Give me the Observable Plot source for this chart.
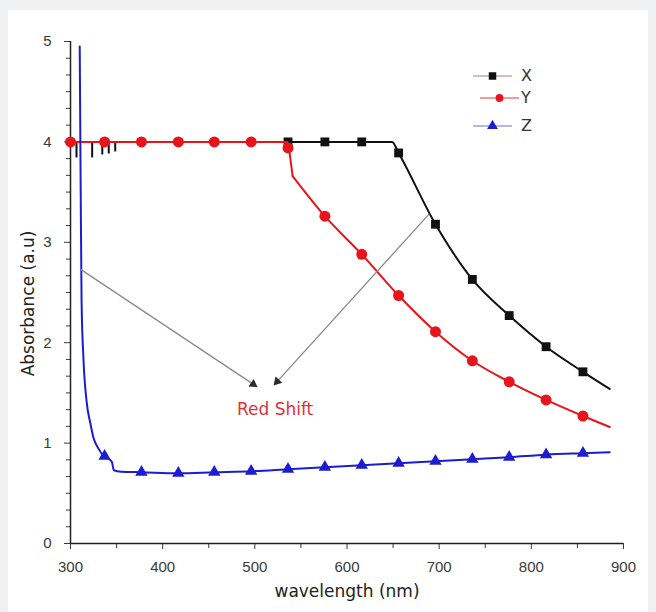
<!DOCTYPE html>
<html>
<head>
<meta charset="utf-8">
<script src="https://cdn.jsdelivr.net/npm/d3@7"></script>
<script src="https://cdn.jsdelivr.net/npm/@observablehq/plot@0.6"></script>
<style>
  body { margin: 0; background: #eef0f2; font-family: "Liberation Sans", Arial, sans-serif; }
  #wrap { position: relative; width: 656px; height: 612px; overflow: hidden; }
  #panel { position: absolute; left: 8px; top: 10px; width: 640px; height: 602px; background: #fff; }
  #chart { position: absolute; left: 0; top: 0; }
  #legend { position: absolute; left: 470px; top: 64px; }
  .lrow { position: absolute; left: 0; width: 80px; height: 20px; }
  .lrow span { position: absolute; left: 51px; top: 0px; font-size: 16px; color: #333; font-family: "DejaVu Sans", sans-serif; }
</style>
</head>
<body>
<div id="wrap">
  <div id="panel"></div>
  <div id="chart"></div>
  <div id="legend"></div>
</div>
<script>
// ---------- data ----------
const xTicks = [300, 400, 500, 600, 700, 800, 900];
const xMinorTicks = [350, 450, 550, 650, 750, 850];
const yTicks = [0, 1, 2, 3, 4, 5];

// Series X (black squares)
const xLineWl  = [300, 649, 656, 696, 736, 776, 816, 856, 885];
const xLineAbs = [4.0, 4.0, 3.89, 3.18, 2.63, 2.27, 1.96, 1.71, 1.54];
const xMarkWl  = [536, 576, 616, 656, 696, 736, 776, 816, 856];
const xMarkAbs = [4.0, 4.0, 4.0, 3.89, 3.18, 2.63, 2.27, 1.96, 1.71];
// small noise spikes of X near 300-350 nm
const xNoiseWl  = [306.5, 323.5, 334.5, 341.5, 348.5];
const xNoiseAbs = [3.84, 3.84, 3.87, 3.88, 3.90];

// Series Y (red circles)
const yLineWl  = [300, 535, 537, 541, 576, 616, 656, 696, 736, 776, 816, 856, 885];
const yLineAbs = [4.0, 4.0, 3.94, 3.66, 3.26, 2.88, 2.47, 2.11, 1.82, 1.61, 1.43, 1.27, 1.16];
const yMarkWl  = [300, 337, 377, 417, 456, 496, 536, 576, 616, 656, 696, 736, 776, 816, 856];
const yMarkAbs = [4.0, 4.0, 4.0, 4.0, 4.0, 4.0, 3.94, 3.26, 2.88, 2.47, 2.11, 1.82, 1.61, 1.43, 1.27];

// Series Z (blue triangles)
const zLineWl  = [310, 311, 312, 314, 317.4, 321.7, 325, 330.7, 336, 342, 345, 347, 355, 377, 417, 456, 496, 536, 576, 616, 656, 696, 736, 776, 816, 856, 885];
const zLineAbs = [4.95, 3.6, 2.42, 1.85, 1.42, 1.19, 1.05, 0.94, 0.87, 0.84, 0.81, 0.73, 0.715, 0.71, 0.70, 0.71, 0.72, 0.74, 0.76, 0.78, 0.80, 0.82, 0.84, 0.86, 0.885, 0.90, 0.91];
const zMarkWl  = [337, 377, 417, 456, 496, 536, 576, 616, 656, 696, 736, 776, 816, 856];
const zMarkAbs = [0.87, 0.71, 0.70, 0.71, 0.72, 0.74, 0.76, 0.78, 0.80, 0.82, 0.84, 0.86, 0.885, 0.90];

// annotation arrows and label
const arrowFromWl  = [311, 689];
const arrowFromAbs = [2.73, 3.28];
const arrowToWl    = [501, 522];
const arrowToAbs   = [1.57, 1.59];
const noteText = ["Red Shift"];
const noteWl = [522];
const noteAbs = [1.33];

const seriesNames = ["X", "Y", "Z"];
const seriesColors = ["#111111", "#e8141c", "#1c1cd0"];
const legendLine = ["#c8a8a8", "#f07a80", "#9aa0dc"];

// ---------- build tables ----------
const zip = (a, b) => a.map((v, i) => ({x: v, y: b[i]}));
const xLine = zip(xLineWl, xLineAbs), xMark = zip(xMarkWl, xMarkAbs);
const yLine = zip(yLineWl, yLineAbs), yMark = zip(yMarkWl, yMarkAbs);
const yLineA = yLine.filter(d => d.x <= 541), yLineB = yLine.filter(d => d.x >= 541);
const zLine = zip(zLineWl, zLineAbs), zMark = zip(zMarkWl, zMarkAbs);
const noise = zip(xNoiseWl, xNoiseAbs);

const W = 656, H = 612, mL = 70, mR = 33, mT = 41, mB = 69;
const xDomain = [300, 900], yDomain = [0, 5];
const xs = d3.scaleLinear(xDomain, [mL, W - mR]);
const ys = d3.scaleLinear(yDomain, [H - mB, mT]);

const arrows = arrowFromWl.map((_, i) => {
  const x1 = xs(arrowFromWl[i]), y1 = ys(arrowFromAbs[i]);
  const x2 = xs(arrowToWl[i]), y2 = ys(arrowToAbs[i]);
  const len = Math.hypot(x2 - x1, y2 - y1);
  const ux = (x2 - x1) / len, uy = (y2 - y1) / len;
  const ang = Math.atan2(uy, ux) * 180 / Math.PI;
  return {
    x1: arrowFromWl[i], y1: arrowFromAbs[i],
    x2: xs.invert(x2 - ux * 5), y2: ys.invert(y2 - uy * 5),
    hx: xs.invert(x2 - ux * 3), hy: ys.invert(y2 - uy * 3),
    rot: ang + 90
  };
});
const notes = noteText.map((t, i) => ({t, x: noteWl[i], y: noteAbs[i]}));

const yMinor = d3.range(0, 5.0001, 1 / 6).filter(v => Math.abs(v - Math.round(v)) > 1e-6);
const tickFont = "'Liberation Sans', Arial, sans-serif";

const chart = Plot.plot({
  width: W, height: H,
  marginLeft: mL, marginRight: mR, marginTop: mT, marginBottom: mB,
  x: {domain: xDomain},
  y: {domain: yDomain},
  style: {fontFamily: tickFont, fontSize: "15px", color: "#3a3a3a", background: "transparent", overflow: "visible"},
  marks: [
    Plot.axisX(xTicks, {tickSize: 6, tickPadding: 12, label: null, fontSize: 15, tickFormat: d => String(d)}),
    Plot.axisX(xMinorTicks, {tickSize: 5, tickFormat: () => "", label: null}),
    Plot.axisY(yTicks, {tickSize: 6, tickPadding: 13, label: null, fontSize: 15, tickFormat: d => String(d)}),
    Plot.axisY(yMinor, {tickSize: 4, tickFormat: () => "", label: null}),
    Plot.ruleY([0], {stroke: "#222", strokeWidth: 1.5}),
    Plot.ruleX([300], {stroke: "#222", strokeWidth: 1.5}),
    Plot.ruleX(noise, {x: "x", y1: "y", y2: 4.0, stroke: "#111", strokeWidth: 2}),
    Plot.line(xLine, {x: "x", y: "y", stroke: seriesColors[0], strokeWidth: 2, curve: "monotone-x"}),
    Plot.dot(xMark, {x: "x", y: "y", symbol: "square", r: 5, fill: seriesColors[0]}),
    Plot.line(yLineA, {x: "x", y: "y", stroke: seriesColors[1], strokeWidth: 2}),
    Plot.line(yLineB, {x: "x", y: "y", stroke: seriesColors[1], strokeWidth: 2, curve: "monotone-x"}),
    Plot.dot(yMark, {x: "x", y: "y", symbol: "circle", r: 5.5, fill: seriesColors[1]}),
    Plot.line(zLine, {x: "x", y: "y", stroke: seriesColors[2], strokeWidth: 2, curve: "monotone-x"}),
    Plot.dot(zMark, {x: "x", y: "y", symbol: "triangle", r: 4.6, fill: seriesColors[2]}),
    Plot.link(arrows, {x1: "x1", y1: "y1", x2: "x2", y2: "y2", stroke: "#8a8a8a", strokeWidth: 1.3}),
    Plot.dot(arrows, {x: "hx", y: "hy", symbol: "triangle", r: 3.4, fill: "#2a2a2a", rotate: "rot"}),
    Plot.text(notes, {x: "x", y: "y", text: "t", fill: "#e0303c", fontSize: 17, fontFamily: "'DejaVu Sans', sans-serif"}),
    Plot.text(["Absorbance (a.u)"], {frameAnchor: "left", textAnchor: "middle", rotate: -90, dx: -42, dy: 11, fontSize: 17, fill: "#222", fontFamily: "'DejaVu Sans', sans-serif"}),
    Plot.text(["wavelength (nm)"], {frameAnchor: "bottom", textAnchor: "middle", dy: 53, fontSize: 17, fill: "#222", fontFamily: "'DejaVu Sans', sans-serif"})
  ]
});
document.getElementById("chart").appendChild(chart);

// legend
const legendTop = [2, 24, 52];
const legendSymbols = [d3.symbolSquare, d3.symbolCircle, d3.symbolTriangle];
const legendSizes = [56, 48, 50];
const leg = document.getElementById("legend");
seriesNames.forEach((name, i) => {
  const row = document.createElement("div");
  row.className = "lrow";
  row.style.top = legendTop[i] + "px";
  const sym = d3.symbol(legendSymbols[i], legendSizes[i])();
  const x0 = i === 1 ? 10 : 3;
  row.innerHTML = `<svg width="52" height="20" style="position:absolute;left:0;top:0">
    <line x1="${x0}" x2="${x0 + 39}" y1="10" y2="10" stroke="${legendLine[i]}" stroke-width="1.3"/>
    <path d="${sym}" transform="translate(${x0 + 19.5},10)" fill="${seriesColors[i]}"/>
  </svg><span>${name}</span>`;
  leg.appendChild(row);
});
</script>
</body>
</html>
